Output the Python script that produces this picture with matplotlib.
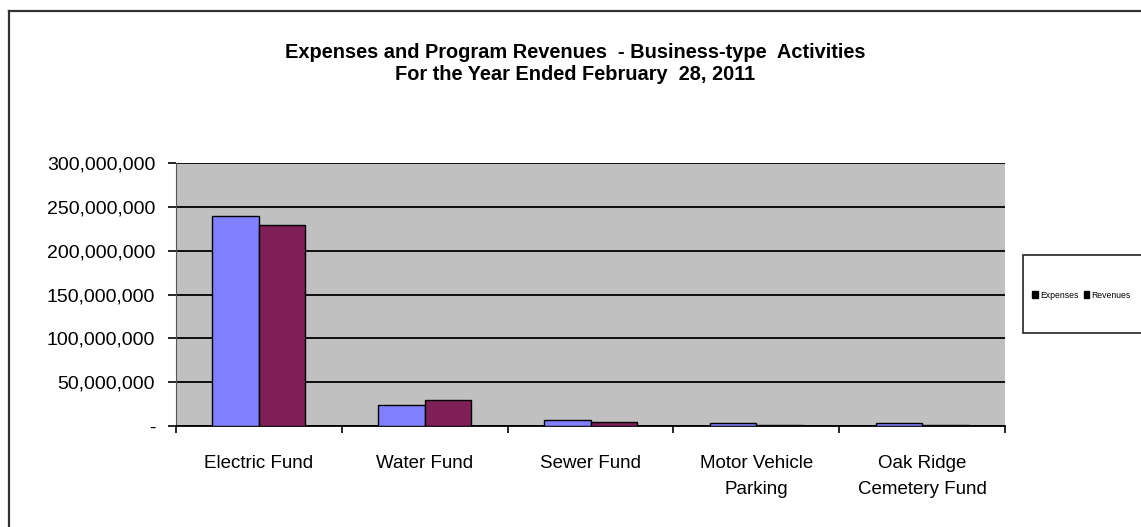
import matplotlib
matplotlib.use("Agg")
import matplotlib.pyplot as plt
from matplotlib.patches import Rectangle, Patch
from matplotlib.ticker import FuncFormatter
import numpy as np

plt.rcParams['font.family'] = ['Liberation Sans', 'DejaVu Sans']

categories = ["Electric Fund", "Water Fund", "Sewer Fund",
              "Motor Vehicle\nParking", "Oak Ridge\nCemetery Fund"]
expenses = [239_500_000, 24_000_000, 6_800_000, 3_000_000, 3_000_000]
revenues = [229_000_000, 30_000_000, 4_900_000, 600_000, 600_000]
series_names = ["Expenses", "Revenues"]
y_ticks = [0, 50_000_000, 100_000_000, 150_000_000, 200_000_000,
           250_000_000, 300_000_000]

W, H = 1141, 527
fig = plt.figure(figsize=(W / 100, H / 100), dpi=100)
fig.patch.set_facecolor("white")

# outer chart frame (left and top edges visible)
fig.add_artist(plt.Line2D([9 / W, 9 / W], [0, 1 - 11 / H], color="#333333",
                          lw=1.6, transform=fig.transFigure))
fig.add_artist(plt.Line2D([9 / W, 1], [1 - 11 / H, 1 - 11 / H], color="#333333",
                          lw=1.6, transform=fig.transFigure))

ax = fig.add_axes([176 / W, 1 - 426 / H, (1005 - 176) / W, (426 - 163) / H])
ax.set_facecolor("#C0C0C0")

x = np.arange(len(categories))
bw = 0.28
ax.bar(x - bw / 2, expenses, bw, color="#8080FF", edgecolor="black",
       linewidth=1.0, zorder=3)
ax.bar(x + bw / 2, revenues, bw, color="#7E1F58", edgecolor="black",
       linewidth=1.0, zorder=3)

ax.set_xlim(-0.5, len(categories) - 0.5)
ax.set_ylim(0, 300_000_000)
ax.set_yticks(y_ticks)
ax.yaxis.set_major_formatter(FuncFormatter(
    lambda v, p: "-" if v == 0 else f"{int(v):,}"))
ax.yaxis.grid(True, color="black", lw=1.3, zorder=1)
ax.set_axisbelow(True)

ax.set_xticks(np.arange(len(categories) + 1) - 0.5)
ax.set_xticklabels([])
ax.set_xticks(x, minor=True)
ax.set_xticklabels(categories, minor=True, fontsize=13.5, linespacing=1.65)
ax.tick_params(axis="x", which="minor", length=0, pad=21)
ax.tick_params(axis="x", which="major", length=5, width=1.2, color="black")
ax.tick_params(axis="y", length=6, width=1.2, labelsize=14, pad=9)

for side in ["top", "right"]:
    ax.spines[side].set_visible(False)
ax.spines["left"].set_color("#555555")
ax.spines["bottom"].set_color("black")
ax.spines["bottom"].set_linewidth(1.3)

fig.text(0.504, 1 - 52 / H, "Expenses and Program Revenues  - Business-type  Activities",
         ha="center", va="center", fontsize=14.4, fontweight="bold")
fig.text(0.504, 1 - 75 / H, "For the Year Ended February  28, 2011",
         ha="center", va="center", fontsize=14.4, fontweight="bold")

# legend box
fig.add_artist(Rectangle((1023 / W, 1 - 333 / H), (W - 1023) / W + 0.01, 78 / H,
                         transform=fig.transFigure, facecolor="white",
                         edgecolor="#222222", lw=1.2))
handles = [Patch(facecolor="black", edgecolor="black") for _ in series_names]
leg = fig.legend(handles, series_names, loc="center left",
                 bbox_to_anchor=(1029 / W, 1 - 295 / H), ncol=2, frameon=False,
                 fontsize=6.2, handlelength=0.6, handleheight=0.7,
                 handletextpad=0.3, columnspacing=0.6, borderaxespad=0)

fig.savefig("out.png", dpi=100)
